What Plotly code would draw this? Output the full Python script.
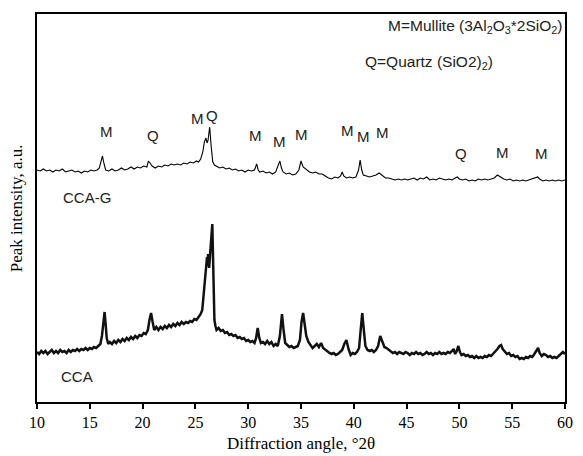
import plotly.graph_objects as go

# CCA-G trace (2-theta in degrees, intensity in arbitrary units)
angle_g = [10.0,10.3,10.6,10.9,11.2,11.5,11.8,12.1,12.4,12.7,13.0,13.3,13.6,13.9,14.2,14.5,14.8,15.1,15.4,15.7,15.9,
           16.05,16.2,16.35,16.5,16.8,17.1,17.4,17.7,18.0,18.3,18.6,18.9,19.2,19.5,19.8,20.1,20.4,20.55,20.7,20.9,
           21.2,21.5,21.8,22.1,22.4,22.7,23.0,23.3,23.6,23.9,24.2,24.5,24.8,25.1,25.3,25.5,25.7,25.85,26.0,26.1,
           26.2,26.35,26.5,26.65,26.8,27.0,27.3,27.6,27.9,28.2,28.5,28.8,29.1,29.4,29.7,30.0,30.3,30.6,30.8,30.95,
           31.1,31.4,31.7,32.0,32.3,32.6,32.85,33.0,33.15,33.3,33.6,33.9,34.2,34.5,34.8,35.0,35.2,35.5,35.8,36.1,
           36.4,36.7,37.0,37.3,37.6,37.9,38.2,38.5,38.75,38.9,39.05,39.3,39.6,39.9,40.2,40.45,40.6,40.75,40.9,41.2,
           41.5,41.8,42.1,42.4,42.7,43.0,43.3,43.6,43.9,44.2,44.5,44.8,45.1,45.4,45.7,46.0,46.3,46.6,46.9,47.2,
           47.5,47.8,48.1,48.4,48.7,49.0,49.3,49.6,49.8,50.0,50.3,50.6,50.9,51.2,51.5,51.8,52.1,52.4,52.7,53.0,
           53.3,53.6,53.9,54.2,54.5,54.8,55.1,55.4,55.7,56.0,56.3,56.6,56.9,57.2,57.4,57.6,57.9,58.2,58.5,58.8,
           59.1,59.4,59.7,60.0]
intensity_g = [232,231,233,231,232,230,232,231,233,230,231,232,230,231,229,231,230,232,231,232,234,
               240,246,238,232,231,233,231,232,234,232,233,235,233,235,234,236,235,241,239,236,
               234,236,235,237,236,238,237,238,237,239,238,240,239,241,240,243,250,260,264,259,
               262,275,255,240,237,236,234,235,233,234,232,233,231,232,230,232,231,232,238,232,
               230,231,229,230,228,230,236,241,234,230,228,229,227,228,232,241,235,232,230,229,
               230,228,228,226,224,223,225,224,226,230,226,224,225,224,225,232,242,232,227,226,
               225,226,227,229,226,224,224,223,222,223,222,223,222,223,224,222,224,223,225,222,
               223,222,224,223,222,223,222,224,225,223,222,223,221,222,221,223,222,223,222,223,
               224,227,225,223,222,223,221,222,221,222,221,222,223,224,225,223,221,222,221,222,
               221,222,221,222]

# CCA trace
angle_c = [10.0,10.2,10.4,10.6,10.8,11.0,11.2,11.4,11.6,11.8,12.0,12.2,12.4,12.6,12.8,13.0,13.2,13.4,13.6,13.8,
           14.0,14.2,14.4,14.6,14.8,15.0,15.2,15.4,15.6,15.8,16.0,16.15,16.3,16.4,16.5,16.6,16.75,16.9,17.1,17.3,
           17.5,17.7,17.9,18.1,18.3,18.5,18.7,18.9,19.1,19.3,19.5,19.7,19.9,20.1,20.3,20.5,20.65,20.8,20.95,21.1,
           21.3,21.5,21.7,21.9,22.1,22.3,22.5,22.7,22.9,23.1,23.3,23.5,23.7,23.9,24.1,24.3,24.5,24.7,24.9,25.1,
           25.3,25.5,25.65,25.8,25.9,26.0,26.1,26.15,26.2,26.3,26.4,26.5,26.6,26.7,26.8,26.9,27.0,27.2,27.4,27.6,
           27.8,28.0,28.2,28.4,28.6,28.8,29.0,29.2,29.4,29.6,29.8,30.0,30.2,30.4,30.6,30.75,30.9,31.05,31.2,31.4,
           31.6,31.8,32.0,32.2,32.4,32.6,32.8,33.0,33.2,33.35,33.5,33.7,33.9,34.1,34.3,34.5,34.7,34.9,35.05,35.2,
           35.35,35.5,35.7,35.9,36.1,36.3,36.5,36.7,36.9,37.1,37.3,37.5,37.7,37.9,38.1,38.3,38.5,38.7,38.9,39.1,
           39.3,39.5,39.7,39.9,40.1,40.3,40.5,40.65,40.8,40.95,41.1,41.3,41.5,41.7,41.9,42.1,42.3,42.5,42.7,42.9,
           43.1,43.3,43.5,43.7,43.9,44.1,44.3,44.5,44.7,44.9,45.1,45.3,45.5,45.7,45.9,46.1,46.3,46.5,46.7,46.9,
           47.1,47.3,47.5,47.7,47.9,48.1,48.3,48.5,48.7,48.9,49.1,49.3,49.45,49.6,49.75,49.9,50.05,50.2,50.4,50.6,
           50.8,51.0,51.2,51.4,51.6,51.8,52.0,52.2,52.4,52.6,52.8,53.0,53.2,53.4,53.6,53.8,53.95,54.1,54.3,54.5,
           54.7,54.9,55.1,55.3,55.5,55.7,55.9,56.1,56.3,56.5,56.7,56.9,57.1,57.3,57.45,57.6,57.8,58.0,58.2,58.4,
           58.6,58.8,59.0,59.2,59.4,59.6,59.8,60.0]
intensity_c = [50,48,51,49,51,48,50,52,49,51,49,52,50,51,49,52,50,52,51,53,
               51,53,52,54,52,54,53,55,54,56,58,66,84,90,78,64,58,60,58,61,
               59,62,60,63,61,64,62,65,63,66,64,67,66,69,68,72,82,89,80,72,
               75,72,75,73,76,74,77,75,78,76,79,77,80,78,80,79,81,80,83,82,
               85,88,92,110,124,132,145,136,148,134,150,165,178,130,82,76,72,74,71,72,
               69,70,67,68,66,67,64,65,63,64,61,62,60,61,59,64,74,64,59,60,
               58,61,58,60,56,58,56,66,88,72,59,57,55,56,54,55,56,62,80,89,
               76,66,60,57,54,56,58,55,59,54,52,50,49,48,49,47,48,50,52,58,
               62,53,47,49,48,50,54,72,89,72,56,52,51,52,50,52,56,66,60,55,
               54,52,50,49,50,48,50,49,48,50,49,47,49,48,50,48,49,47,48,50,
               48,49,47,49,48,50,48,49,48,50,49,51,53,48,51,56,50,47,48,46,
               47,45,46,44,46,44,45,44,46,45,47,46,48,50,53,56,57,53,50,48,
               49,46,47,45,46,43,44,43,45,44,46,45,48,52,54,49,46,48,47,45,
               46,44,45,44,46,47,50,48]

# Phase labels over the CCA-G trace
label_text = ["M", "Q", "M", "Q", "M", "M", "M", "M", "M", "M", "Q", "M", "M"]
label_x = [16.62, 20.94, 25.18, 26.55, 30.68, 33.0, 35.06, 39.42, 40.88, 42.74, 50.11, 54.06, 57.73]
label_y = [271, 267, 284, 287, 267, 261, 268, 272, 266, 270, 249, 250, 249]

x_ticks = [10, 15, 20, 25, 30, 35, 40, 45, 50, 55, 60]

SERIF = "Liberation Serif, Times New Roman, serif"
SANS = "Liberation Sans, Arial, sans-serif"

fig = go.Figure()
fig.add_trace(go.Scatter(x=angle_g, y=intensity_g, mode="lines",
                         line=dict(color="black", width=1.1), name="CCA-G"))
fig.add_trace(go.Scatter(x=angle_c, y=intensity_c, mode="lines",
                         line=dict(color="#111111", width=2.5), name="CCA"))

for t, x, y in zip(label_text, label_x, label_y):
    fig.add_annotation(x=x, y=y, text=t, showarrow=False,
                       font=dict(family=SANS, size=15, color="#222222"),
                       xanchor="center", yanchor="middle")

fig.add_annotation(x=14.71, y=205, text="CCA-G", showarrow=False,
                   font=dict(family=SANS, size=15, color="#222222"), xanchor="center", yanchor="middle")
fig.add_annotation(x=13.78, y=26, text="CCA", showarrow=False,
                   font=dict(family=SANS, size=15, color="#222222"), xanchor="center", yanchor="middle")

fig.add_annotation(xref="paper", yref="paper", x=(572 - 37) / 536, y=(402 - 27) / 388,
                   text="M=Mullite (3Al<sub>2</sub>O<sub>3</sub>*2SiO<sub>2</sub>)", showarrow=False,
                   font=dict(family=SANS, size=15.5, color="#222222"), xanchor="right", yanchor="middle")
fig.add_annotation(xref="paper", yref="paper", x=(368 - 37) / 536, y=(402 - 62) / 388,
                   text="Q=Quartz (SiO2)<sub>2</sub>)", showarrow=False,
                   font=dict(family=SANS, size=15.5, color="#222222"), xanchor="left", yanchor="middle")

fig.add_annotation(xref="paper", yref="paper", x=(305 - 37) / 536, y=(402 - 443) / 388,
                   text="Diffraction angle, °2θ", showarrow=False,
                   font=dict(family=SERIF, size=17, color="black"), xanchor="center", yanchor="middle")
fig.add_annotation(xref="paper", yref="paper", x=(16 - 37) / 536, y=(402 - 208) / 388,
                   text="Peak intensity, a.u.", showarrow=False, textangle=-90,
                   font=dict(family=SERIF, size=17, color="black"), xanchor="center", yanchor="middle")

fig.update_layout(
    width=583, height=456,
    margin=dict(l=37, r=10, t=14, b=54),
    paper_bgcolor="white", plot_bgcolor="white",
    showlegend=False,
)
fig.update_xaxes(range=[10, 60], tickvals=x_ticks, ticktext=[str(v) for v in x_ticks],
                 showline=True, linecolor="black", linewidth=2, mirror=True,
                 ticks="outside", ticklen=5, tickwidth=1.5, tickcolor="black",
                 showgrid=False, zeroline=False,
                 tickfont=dict(family=SERIF, size=16, color="black"))
fig.update_yaxes(range=[0, 388], showline=True, linecolor="black", linewidth=2, mirror=True,
                 showticklabels=False, ticks="", showgrid=False, zeroline=False)

fig.write_html("out.html")
